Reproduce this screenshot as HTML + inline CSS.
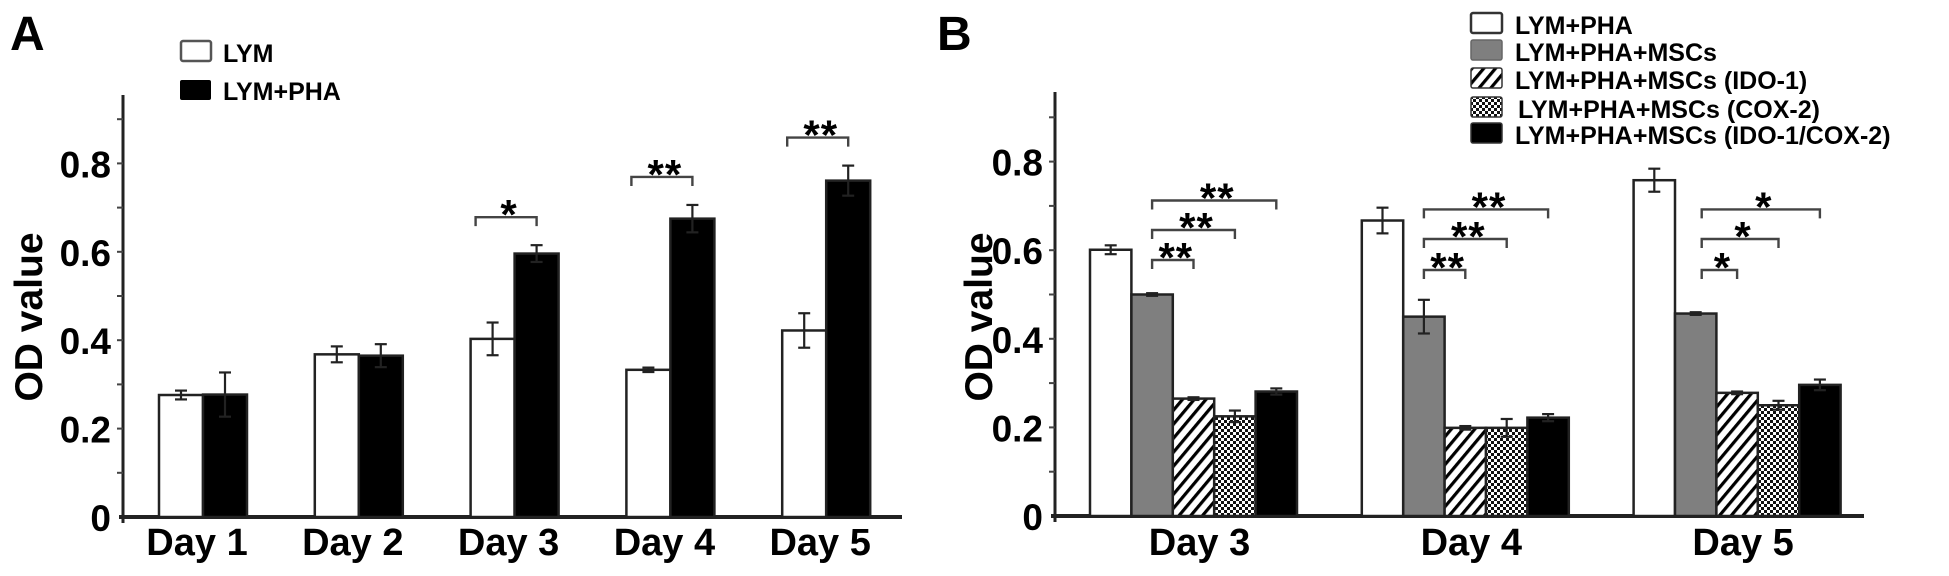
<!DOCTYPE html>
<html><head><meta charset="utf-8">
<style>
html,body{margin:0;padding:0;background:#fff;}
svg{display:block;font-family:"Liberation Sans",Arial,sans-serif;font-weight:bold;}
</style></head>
<body>
<svg id="fig" width="1949" height="576" viewBox="0 0 1949 576">
<defs>
<pattern id="hatch" patternUnits="userSpaceOnUse" width="9" height="9" patternTransform="rotate(40)">
<rect width="9" height="9" fill="#fff"/><rect x="0" y="0" width="3.2" height="9" fill="#000"/>
</pattern>
<pattern id="check" patternUnits="userSpaceOnUse" width="6" height="6">
<rect width="6" height="6" fill="#fff"/><rect x="0" y="0" width="3" height="3" fill="#111"/><rect x="3" y="3" width="3" height="3" fill="#111"/>
</pattern>
</defs>
<g id="panelA"></g>
<g id="panelB"></g>
</svg>
<script>
// Panel A data
const catsA = ["Day 1","Day 2","Day 3","Day 4","Day 5"];
const lymVals = [0.276,0.368,0.403,0.333,0.422];
const lymErr = [0.010,0.018,0.037,0.005,0.039];
const phaVals = [0.277,0.365,0.596,0.675,0.761];
const phaErr = [0.050,0.026,0.019,0.031,0.034];
const sigA = ["","","*","**","**"];
// Panel B data
const catsB = ["Day 3","Day 4","Day 5"];
const seriesNamesB = ["LYM+PHA","LYM+PHA+MSCs","LYM+PHA+MSCs (IDO-1)","LYM+PHA+MSCs (COX-2)","LYM+PHA+MSCs (IDO-1/COX-2)"];
const bPha = [0.601,0.667,0.758];
const bMsc = [0.500,0.450,0.457];
const bIdo = [0.265,0.199,0.278];
const bCox = [0.225,0.199,0.250];
const bBoth = [0.281,0.222,0.296];
const bPhaErr = [0.010,0.029,0.026];
const bMscErr = [0.003,0.038,0.003];
const bIdoErr = [0.003,0.004,0.003];
const bCoxErr = [0.013,0.020,0.010];
const bBothErr = [0.007,0.008,0.012];
const sigB = [["**","**","**"],["**","**","**"],["*","*","*"]];
const yTicks = [0,0.2,0.4,0.6,0.8];
const yMinor = [0.1,0.2,0.3,0.4,0.5,0.6,0.7,0.8,0.9];

const NS="http://www.w3.org/2000/svg";
function mk(parent,tag,attrs,text){const e=document.createElementNS(NS,tag);for(const k in attrs)e.setAttribute(k,attrs[k]);if(text!==undefined)e.textContent=text;parent.appendChild(e);return e;}

function drawAxes(g,ax){
  const ya=mk(g,'line',{x1:ax.x0,y1:ax.top,x2:ax.x0,y2:ax.base+6,stroke:'#222','stroke-width':3});
  
  
  const xa=mk(g,'line',{x1:ax.x0-4,y1:ax.base,x2:ax.x1,y2:ax.base,stroke:'#222','stroke-width':4});
  
  
  yMinor.forEach(v=>{mk(g,'line',{x1:ax.x0-6,x2:ax.x0,y1:ax.y(v),y2:ax.y(v),stroke:'#444','stroke-width':2});});
  yTicks.forEach(v=>{
    const t=mk(g,'text',{x:ax.x0-12,y:ax.y(v)+14,'text-anchor':'end','font-size':37},v===0?'0':v.toFixed(1));
    
    
  });
  const tt=mk(g,'text',{x:0,y:0,'text-anchor':'middle','font-size':39,transform:`translate(${ax.titleX},317) rotate(-90)`},'OD value');
  
  
}
function bar(g,x,w,v,err,fill,ax,name){
  const top=ax.y(v);
  const r=mk(g,'rect',{x:x,y:top,width:w,height:ax.base-top,fill:fill,stroke:'#222','stroke-width':2.5});
  
  
  const cx=x+w/2,y1=ax.y(v+err),y2=ax.y(v-err);
  mk(g,'line',{x1:cx,x2:cx,y1:y1,y2:y2,stroke:'#222','stroke-width':2.2});
  mk(g,'line',{x1:cx-6,x2:cx+6,y1:y1,y2:y1,stroke:'#222','stroke-width':2.2});
  mk(g,'line',{x1:cx-6,x2:cx+6,y1:y2,y2:y2,stroke:'#222','stroke-width':2.2});
}
function bracket(g,xa,xb,y,label,name){
  const p=mk(g,'path',{d:`M${xa},${y+9}V${y}H${xb}V${y+9}`,fill:'none',stroke:'#444','stroke-width':2.4});
  
  
  const t=mk(g,'text',{x:(xa+xb)/2+3,y:y+12,'text-anchor':'middle','font-size':42,'letter-spacing':1},label);
  
  
}

// ----- Panel A -----
(function(){
  const g=document.getElementById('panelA');
  const ax={x0:123,x1:902,top:95,base:517,titleX:42};
  ax.y=v=>ax.base-v*442;
  const L=mk(g,'text',{x:10,y:50,'font-size':48},'A');
  
  
  drawAxes(g,ax);
  const bw=44, c0=203, step=155.8;
  catsA.forEach((c,i)=>{
    const cx=c0+i*step;
    bar(g,cx-bw,bw,lymVals[i],lymErr[i],'#fff',ax,'bar-lym-'+(i+1));
    bar(g,cx,bw,phaVals[i],phaErr[i],'#000',ax,'bar-lym-pha-'+(i+1));
    const t=mk(g,'text',{x:cx-6,y:555,'text-anchor':'middle','font-size':38},c);
    
    
    if(sigA[i]){
      const top=ax.y(phaVals[i]+phaErr[i]);
      bracket(g,cx-bw+5,cx+bw/2,top-28,sigA[i],'significance-bracket');
    }
  });
  const l1=mk(g,'rect',{x:181,y:41,width:30,height:20,rx:2,fill:'#fff',stroke:'#555','stroke-width':2.5});
  
  
  const t1=mk(g,'text',{x:223,y:62,'font-size':25},'LYM');
  
  
  const l2=mk(g,'rect',{x:180,y:80,width:31,height:20,rx:2,fill:'#000'});
  
  
  const t2=mk(g,'text',{x:223,y:100,'font-size':25},'LYM+PHA');
  
  
})();

// ----- Panel B -----
(function(){
  const g=document.getElementById('panelB');
  const ax={x0:1055,x1:1864,top:92,base:516,titleX:992};
  ax.y=v=>ax.base-v*443;
  const L=mk(g,'text',{x:937,y:50,'font-size':48},'B');
  
  
  drawAxes(g,ax);
  const vals=[bPha,bMsc,bIdo,bCox,bBoth], errs=[bPhaErr,bMscErr,bIdoErr,bCoxErr,bBothErr];
  const fills=['#fff','#7f7f7f','url(#hatch)','url(#check)','#000'];
  const keys=['pha','mscs','ido1','cox2','ido1-cox2'];
  const bw=41.4, c0=1193.5, step=271.8;
  const bl=[260,230,200.5], bl2=[270,239,209.4];
  catsB.forEach((c,i)=>{
    const cx=c0+i*step, left=cx-2.5*bw;
    for(let s=0;s<5;s++) bar(g,left+s*bw,bw,vals[s][i],errs[s][i],fills[s],ax,'bar-'+keys[s]+'-'+c.replace(' ','').toLowerCase());
    const t=mk(g,'text',{x:cx+6,y:555,'text-anchor':'middle','font-size':38},c);
    
    
    const levels=i===0?bl:bl2;
    const gx=left+1.5*bw+(i===2?6:0);
    for(let k=0;k<3;k++){
      bracket(g,gx,left+(2.5+k)*bw,levels[k],sigB[i][k],'significance-bracket');
    }
  });
  const ly=[13,40,68,97,123];
  seriesNamesB.forEach((n,s)=>{
    const r=mk(g,'rect',{x:1471,y:ly[s],width:31,height:20,rx:2,fill:fills[s],stroke:s===1?'#666':'#333','stroke-width':s===0?2.5:1.5});
    
    
    const t=mk(g,'text',{x:s===3?1518:1515,y:ly[s]+21,'font-size':25},n);
    
    
  });
})();
</script>
</body></html>
